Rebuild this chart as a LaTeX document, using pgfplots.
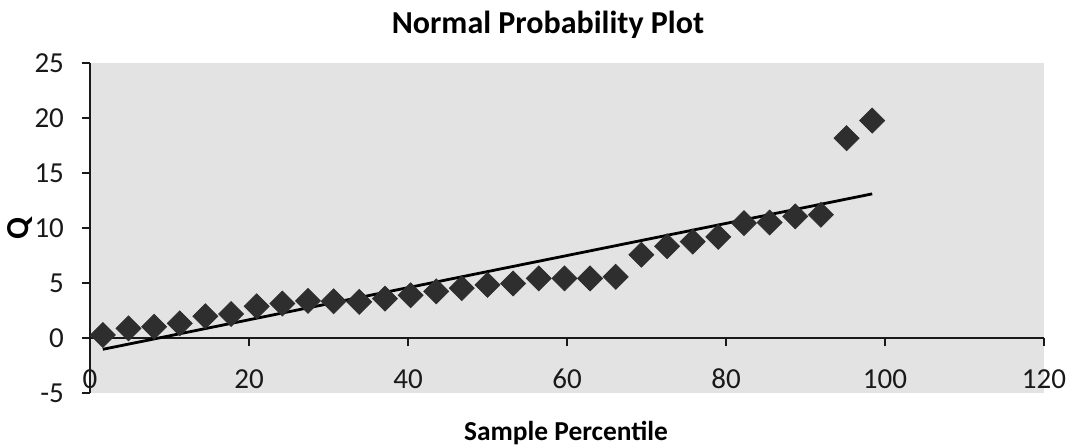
\documentclass[border=0pt]{standalone}
\usepackage{pgfplots}
\pgfplotsset{compat=1.18}
\usepackage{fontspec}
\setmainfont{Carlito}
\begin{document}
\begin{tikzpicture}
\begin{axis}[name=ax, at={(0,0)}, anchor=south west,
  scale only axis, width=477pt, height=165.35pt,
  xmin=0, xmax=120, ymin=-5, ymax=25,
  axis x line=middle, axis y line=left,
  axis line style={-, line width=1pt, black!90},
  xtick={0,20,...,120}, ytick={-5,0,...,25},
  tick align=outside, major tick length=4pt,
  tick style={line width=1pt, black!90},
  hide obscured x ticks=false, hide obscured y ticks=false,
  axis background/.style={fill=black!11},
  /pgf/number format/assume math mode=true,
  ticklabel style={font=\fontsize{14.5}{14.5}\selectfont, text=black!90},
  xticklabel style={anchor=base, yshift=-21pt},
  yticklabel style={anchor=east, xshift=-5.5pt},
  clip=false,
]
\addplot[only marks, mark=square*, mark size=4.4pt,
  mark options={rotate=45, fill=black!82, draw=black!82}] coordinates {
(1.613,0.3) (4.839,0.9) (8.065,1.05) (11.290,1.36) (14.516,2.0) (17.742,2.2)
(20.968,2.9) (24.194,3.15) (27.419,3.4) (30.645,3.35) (33.871,3.3) (37.097,3.6)
(40.323,3.9) (43.548,4.25) (46.774,4.55) (50.000,4.85) (53.226,4.97) (56.452,5.43)
(59.677,5.43) (62.903,5.43) (66.129,5.58) (69.355,7.58) (72.581,8.35) (75.806,8.77)
(79.032,9.2) (82.258,10.45) (85.484,10.5) (88.710,11.05) (91.935,11.2) (95.161,18.15)
(98.387,19.75)};
\addplot[black, line width=1.4pt] coordinates {(1.613,-1.0) (98.387,13.1)};
\node[anchor=base, font=\bfseries\fontsize{16}{16}\selectfont] at ([yshift=14.35pt]rel axis cs:0.48,1) {Normal Probability Plot};
\node[anchor=base, font=\bfseries\fontsize{13.7}{14}\selectfont] at ([yshift=-23.8pt]rel axis cs:0.499,0) {Sample Percentile};
\node[rotate=90, font=\bfseries\fontsize{16}{16}\selectfont] at ([xshift=-35pt]rel axis cs:0,0.5) {Q};
\end{axis}
\pgfresetboundingbox
\path[use as bounding box] ([shift={(-45pt,-27.3pt)}]ax.south west) rectangle ([shift={(12pt,31.35pt)}]ax.north east);
\end{tikzpicture}
\end{document}
